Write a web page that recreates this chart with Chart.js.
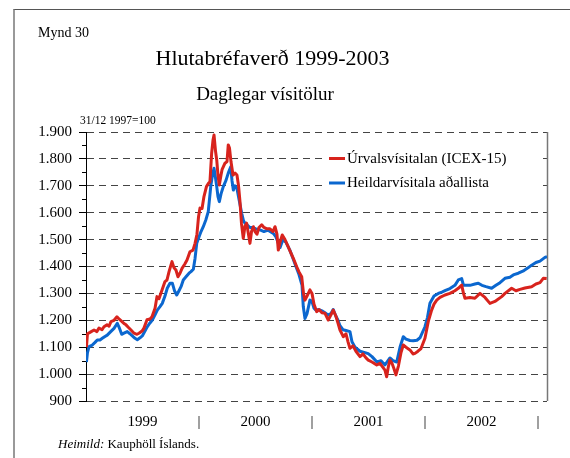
<!DOCTYPE html>
<html><head><meta charset="utf-8">
<script src="https://cdn.jsdelivr.net/npm/chart.js@4"></script>
<style>
html,body{margin:0;padding:0;background:#fff;}
#wrap{position:relative;width:570px;height:458px;overflow:hidden;font-family:"Liberation Serif","Times New Roman",serif;color:#000;}
canvas{position:absolute;left:0;top:0;}
.t{position:absolute;white-space:nowrap;line-height:1;}
#frame{position:absolute;left:13px;top:9px;width:600px;height:500px;border-top:1px solid #555;border-left:2px solid #999;}
</style></head><body>
<div id="wrap">
<div id="frame"></div>
<canvas id="c" width="570" height="458"></canvas>
<div class="t" style="left:38px;top:26px;font-size:14px">Mynd 30</div>
<div class="t" style="left:0;width:545px;text-align:center;top:46.5px;font-size:22px">Hlutabréfaverð 1999-2003</div>
<div class="t" style="left:0;width:530px;text-align:center;top:84px;font-size:19px">Daglegar vísitölur</div>
<div class="t" style="left:80px;top:114.5px;font-size:11.5px">31/12 1997=100</div>
<div class="t" style="left:58px;top:437px;font-size:13px"><i>Heimild:</i> Kauphöll Íslands.</div>
</div>
<script>
// Time = years since 1 Jan 1999; values = index (31/12 1997 = 100, shown as thousands)
const seriesNames = ["Úrvalsvísitalan (ICEX-15)", "Heildarvísitala aðallista"];
const redT = [
 0.004,0.013,0.035,0.071,0.097,0.115,0.142,0.159,0.186,0.204,
 0.221,0.248,0.274,0.292,0.319,0.336,0.354,0.372,0.398,0.425,
 0.451,0.469,0.496,0.513,0.540,0.566,0.584,0.611,0.628,0.646,
 0.673,0.699,0.717,0.735,0.761,0.779,0.796,0.814,0.832,0.850,
 0.876,0.894,0.920,0.947,0.965,0.982,0.996,1.009,1.027,1.044,
 1.066,1.084,1.097,1.112,1.124,1.133,1.146,1.157,1.168,1.180,
 1.195,1.204,1.230,1.248,1.259,1.270,1.283,1.301,1.319,1.336,
 1.350,1.363,1.376,1.392,1.407,1.422,1.434,1.451,1.465,1.481,
 1.496,1.513,1.531,1.555,1.575,1.602,1.628,1.655,1.673,1.690,
 1.702,1.717,1.737,1.761,1.788,1.814,1.835,1.865,1.885,1.909,
 1.925,1.938,1.956,1.982,2.000,2.018,2.042,2.062,2.088,2.115,
 2.144,2.168,2.188,2.212,2.230,2.248,2.277,2.301,2.319,2.336,
 2.363,2.389,2.425,2.451,2.478,2.498,2.531,2.573,2.602,2.628,
 2.646,2.661,2.677,2.690,2.708,2.726,2.743,2.765,2.788,2.808,
 2.832,2.867,2.894,2.912,2.938,2.965,3.000,3.029,3.059,3.080,
 3.104,3.133,3.177,3.221,3.265,3.295,3.325,3.341,3.354,3.398,
 3.442,3.487,3.531,3.575,3.619,3.679,3.708,3.767,3.805,3.841,
 3.885,3.944,3.982,4.018,4.047,4.077];
const redV = [
 1100,1150,1155,1164,1158,1171,1165,1176,1183,1178,
 1195,1200,1213,1205,1195,1188,1183,1175,1164,1152,
 1148,1152,1160,1171,1202,1205,1213,1245,1288,1280,
 1313,1344,1350,1381,1418,1395,1387,1362,1375,1393,
 1410,1424,1455,1461,1486,1520,1585,1617,1616,1660,
 1697,1709,1715,1821,1870,1889,1830,1796,1740,1703,
 1740,1760,1784,1790,1852,1840,1790,1740,1747,1740,
 1700,1640,1560,1505,1550,1561,1530,1486,1530,1548,
 1530,1520,1545,1555,1545,1540,1540,1530,1548,1520,
 1461,1490,1517,1500,1475,1450,1430,1399,1380,1362,
 1300,1275,1290,1313,1300,1260,1232,1240,1228,1226,
 1201,1220,1238,1215,1190,1164,1139,1150,1120,1096,
 1105,1085,1065,1075,1060,1052,1045,1034,1040,1025,
 1015,990,1030,1052,1040,1020,997,1030,1080,1108,
 1100,1090,1075,1077,1085,1095,1133,1195,1238,1260,
 1275,1285,1294,1300,1310,1319,1331,1300,1282,1285,
 1282,1300,1285,1263,1270,1288,1300,1319,1310,1315,
 1320,1325,1335,1340,1356,1355];
const blueT = [
 0.004,0.013,0.027,0.056,0.080,0.100,0.124,0.144,0.168,0.188,
 0.212,0.248,0.277,0.292,0.316,0.336,0.365,0.389,0.410,0.434,
 0.454,0.478,0.498,0.522,0.542,0.566,0.587,0.611,0.631,0.655,
 0.675,0.699,0.719,0.743,0.764,0.783,0.803,0.823,0.841,0.861,
 0.885,0.912,0.929,0.950,0.965,0.980,1.000,1.018,1.038,1.062,
 1.082,1.104,1.119,1.133,1.146,1.157,1.168,1.180,1.195,1.215,
 1.239,1.259,1.281,1.292,1.304,1.319,1.336,1.354,1.378,1.394,
 1.407,1.425,1.451,1.478,1.504,1.540,1.575,1.611,1.658,1.681,
 1.699,1.717,1.743,1.770,1.805,1.832,1.858,1.885,1.912,1.923,
 1.938,1.956,1.982,2.000,2.018,2.035,2.062,2.088,2.115,2.142,
 2.168,2.188,2.212,2.230,2.248,2.274,2.301,2.336,2.354,2.381,
 2.425,2.469,2.498,2.531,2.575,2.611,2.646,2.673,2.690,2.717,
 2.750,2.779,2.808,2.832,2.867,2.896,2.929,2.956,3.000,3.022,
 3.044,3.080,3.118,3.150,3.177,3.221,3.265,3.295,3.325,3.341,
 3.363,3.398,3.442,3.472,3.504,3.540,3.590,3.628,3.664,3.708,
 3.752,3.788,3.826,3.876,3.912,3.944,3.982,4.018,4.062,4.080];
const blueV = [
 1045,1080,1102,1108,1118,1127,1127,1133,1140,1145,
 1155,1170,1189,1175,1148,1152,1158,1150,1142,1133,
 1128,1135,1142,1160,1176,1190,1201,1220,1238,1251,
 1263,1290,1319,1338,1338,1310,1294,1310,1325,1350,
 1362,1375,1381,1390,1430,1486,1510,1530,1548,1575,
 1604,1697,1740,1765,1730,1697,1660,1641,1670,1697,
 1720,1747,1771,1720,1684,1700,1690,1650,1598,1570,
 1561,1555,1545,1545,1540,1536,1530,1535,1523,1510,
 1490,1470,1500,1490,1460,1430,1400,1370,1330,1251,
 1207,1225,1275,1270,1245,1238,1240,1235,1228,1220,
 1225,1240,1215,1200,1180,1165,1162,1158,1120,1100,
 1085,1080,1076,1065,1045,1050,1034,1050,1060,1050,
 1045,1100,1139,1130,1125,1124,1126,1135,1176,1210,
 1263,1290,1300,1305,1310,1318,1330,1350,1355,1330,
 1330,1330,1335,1338,1330,1325,1319,1330,1340,1356,
 1360,1370,1375,1385,1395,1405,1415,1420,1434,1437];
const xTickPos = [0.5, 1, 1.5, 2, 2.5, 3, 3.5, 4];
const xTickLabels = ["1999", "|", "2000", "|", "2001", "|", "2002", "|"];
const yTicks = [900,1000,1100,1200,1300,1400,1500,1600,1700,1800,1900];
const yTickLabels = ["900","1.000","1.100","1.200","1.300","1.400","1.500","1.600","1.700","1.800","1.900"];
const yMinorTicks = [950,1050,1150,1250,1350,1450,1550,1650,1750,1850];

const FONT = '"Liberation Serif","Times New Roman",serif';
const RED = '#d8231d', BLUE = '#0b67cf';

const extras = {
  id: 'extras',
  beforeDatasetsDraw(chart) {
    const {ctx, chartArea: a, scales: {y}} = chart;
    ctx.save();
    // right border of plot
    ctx.strokeStyle = '#777'; ctx.lineWidth = 1.5;
    ctx.beginPath(); ctx.moveTo(a.right + 0.5, a.top); ctx.lineTo(a.right + 0.5, a.bottom); ctx.stroke();
    // minor ticks
    ctx.strokeStyle = '#000'; ctx.lineWidth = 1;
    yMinorTicks.forEach(v => {
      const py = Math.round(y.getPixelForValue(v)) + 0.5;
      ctx.beginPath(); ctx.moveTo(a.left - 4, py); ctx.lineTo(a.left, py); ctx.stroke();
    });
    // legend box
    ctx.fillStyle = '#fff';
    ctx.fillRect(327, 148, 212, 46);
    const entries = chart.data.datasets.map(d => ({label: d.label, color: d.borderColor}));
    const rows = [158.5, 183];
    ctx.font = '15px ' + FONT;
    ctx.textBaseline = 'middle';
    entries.forEach((e, i) => {
      ctx.strokeStyle = e.color; ctx.lineWidth = 3;
      ctx.beginPath(); ctx.moveTo(329, rows[i]); ctx.lineTo(345, rows[i]); ctx.stroke();
      ctx.fillStyle = '#000';
      ctx.fillText(e.label, 347, rows[i] + 0.5);
    });
    ctx.restore();
  }
};

new Chart(document.getElementById('c'), {
  type: 'line',
  data: {
    datasets: [
      {label: seriesNames[0], data: redT.map((t, i) => ({x: t, y: redV[i]})), borderColor: RED, backgroundColor: RED, borderWidth: 3, pointRadius: 0, tension: 0, borderJoinStyle: 'round'},
      {label: seriesNames[1], data: blueT.map((t, i) => ({x: t, y: blueV[i]})), borderColor: BLUE, backgroundColor: BLUE, borderWidth: 3, pointRadius: 0, tension: 0, borderJoinStyle: 'round'}
    ]
  },
  options: {
    responsive: false,
    animation: false,
    events: [],
    layout: {padding: {left: 0, right: 23, top: 132, bottom: 0}},
    plugins: {legend: {display: false}, tooltip: {enabled: false}, title: {display: false}},
    scales: {
      x: {
        type: 'linear', min: 0, max: 4.08,
        grid: {display: false, drawTicks: false},
        border: {display: false},
        afterBuildTicks: s => { s.ticks = xTickPos.map(v => ({value: v})); },
        afterFit: s => { s.height = 57; },
        ticks: {
          autoSkip: false, maxRotation: 0, padding: 12,
          color: '#000', font: {family: FONT, size: 15},
          callback: v => { const i = xTickPos.indexOf(v); return i >= 0 ? xTickLabels[i] : ''; }
        }
      },
      y: {
        min: 900, max: 1900,
        afterBuildTicks: s => { s.ticks = yTicks.map(v => ({value: v})); },
        afterFit: s => { s.width = 86; },
        grid: {color: '#444', lineWidth: 1, tickLength: 7, tickColor: '#000', tickBorderDash: []},
        border: {display: true, color: '#000', width: 1, dash: [7, 5]},
        ticks: {
          padding: 7, color: '#000', font: {family: FONT, size: 15},
          callback: v => { const i = yTicks.indexOf(v); return i >= 0 ? yTickLabels[i] : ''; }
        }
      }
    }
  },
  plugins: [extras]
});
</script>
</body></html>
